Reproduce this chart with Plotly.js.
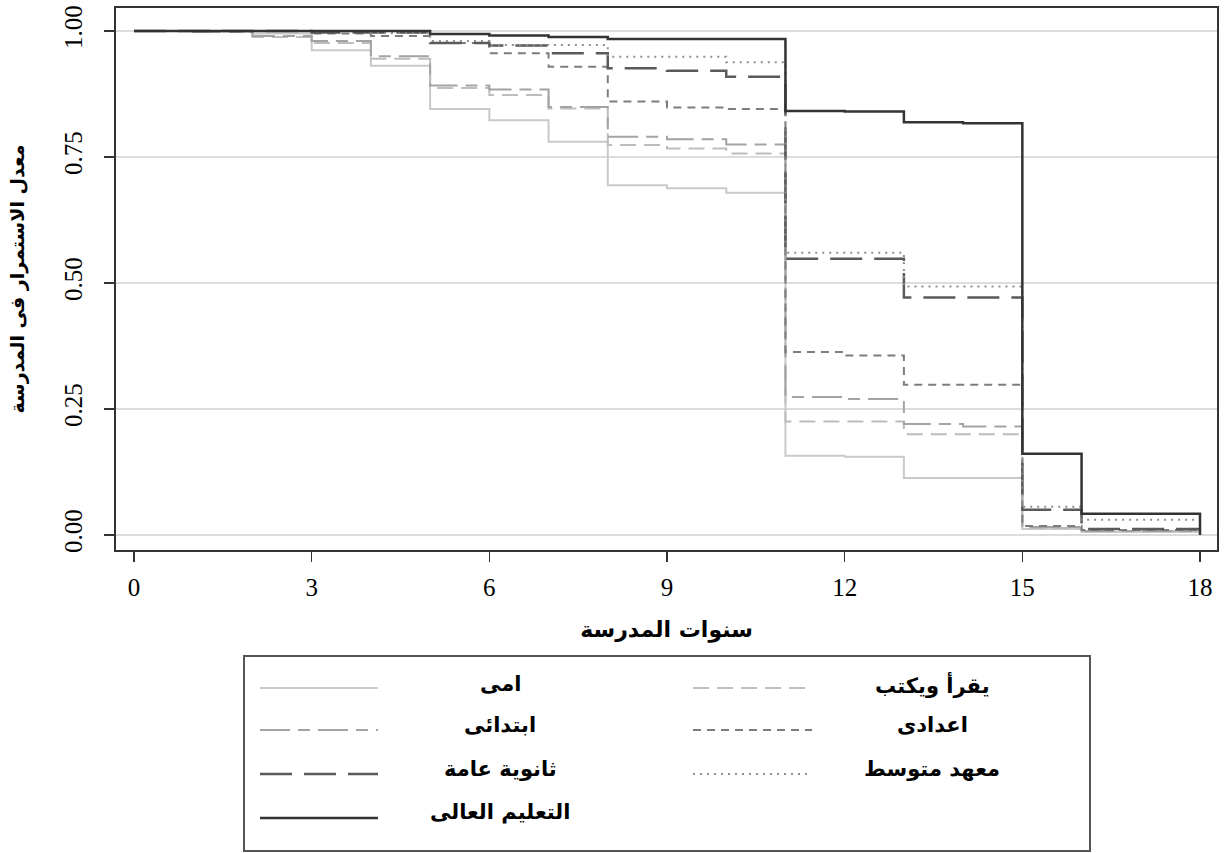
<!DOCTYPE html>
<html>
<head>
<meta charset="utf-8">
<script src="https://cdn.plot.ly/plotly-3.0.1.min.js"></script>
<style>body{margin:0;background:#fff;} #chart{width:1231px;height:853px;}</style>
</head>
<body>
<div id="chart"></div>
<script>
// ---- Data ----
const xTicks = [0, 3, 6, 9, 12, 15, 18];
const yTicks = [0, 0.25, 0.5, 0.75, 1];
const yTickLabels = ["0.00", "0.25", "0.50", "0.75", "1.00"];

const seriesNames = ["امى", "يقرأ ويكتب", "ابتدائى", "اعدادى", "ثانوية عامة", "معهد متوسط", "التعليم العالى"];

const amyX = [0, 2, 3, 4, 5, 6, 7, 8, 9, 10, 11, 12, 13, 15, 16, 18];
const amyY = [1, 0.995, 0.962, 0.931, 0.845, 0.823, 0.780, 0.694, 0.688, 0.679, 0.157, 0.155, 0.113, 0.012, 0.006, 0.006];

const yaqraX = [0, 1, 2, 3, 4, 5, 6, 7, 8, 9, 10, 11, 13, 15, 16, 18];
const yaqraY = [1, 0.998, 0.988, 0.976, 0.945, 0.887, 0.873, 0.846, 0.774, 0.767, 0.757, 0.225, 0.200, 0.014, 0.008, 0.008];

const ibtidaiX = [0, 1, 2, 3, 4, 5, 6, 7, 8, 9, 10, 11, 12, 13, 14, 15, 16, 18];
const ibtidaiY = [1, 0.998, 0.99, 0.98, 0.95, 0.892, 0.884, 0.849, 0.790, 0.785, 0.775, 0.274, 0.270, 0.220, 0.215, 0.016, 0.008, 0.008];

const iadadiX = [0, 3, 4, 5, 6, 7, 8, 9, 10, 11, 12, 13, 15, 16, 18];
const iadadiY = [1, 0.995, 0.99, 0.976, 0.956, 0.929, 0.860, 0.848, 0.845, 0.363, 0.356, 0.298, 0.018, 0.010, 0.010];

const thanawiX = [0, 3, 5, 6, 7, 8, 9, 10, 11, 13, 15, 16, 18];
const thanawiY = [1, 0.997, 0.976, 0.971, 0.956, 0.926, 0.921, 0.909, 0.548, 0.471, 0.050, 0.012, 0.012];

const mahadX = [0, 4, 5, 6, 8, 10, 11, 13, 15, 16, 18];
const mahadY = [1, 0.996, 0.980, 0.972, 0.949, 0.938, 0.560, 0.493, 0.056, 0.030, 0.030];

const aaliX = [0, 5, 6, 7, 8, 11, 12, 13, 14, 15, 16, 18];
const aaliY = [1, 0.994, 0.991, 0.988, 0.984, 0.841, 0.840, 0.819, 0.817, 0.161, 0.042, 0];

// ---- Styles ----
const styles = [
  {color: "#c9c9c9", width: 2, dash: "solid"},
  {color: "#bdbdbd", width: 2, dash: "16px,8px"},
  {color: "#a3a3a3", width: 2, dash: "30px,8px,12px,8px"},
  {color: "#7d7d7d", width: 2, dash: "8px,6px"},
  {color: "#5a5a5a", width: 2.5, dash: "32px,12px"},
  {color: "#8f8f8f", width: 2, dash: "2px,5px"},
  {color: "#333333", width: 2.5, dash: "solid"}
];

const xs = [amyX, yaqraX, ibtidaiX, iadadiX, thanawiX, mahadX, aaliX];
const ys = [amyY, yaqraY, ibtidaiY, iadadiY, thanawiY, mahadY, aaliY];

const traces = seriesNames.map((n, i) => ({
  type: "scatter", mode: "lines", name: n,
  x: xs[i], y: ys[i],
  line: {shape: "hv", color: styles[i].color, width: styles[i].width, dash: styles[i].dash},
  showlegend: false, hoverinfo: "x+y+name"
}));

// ---- Layout geometry ----
const W = 1231, H = 853;
const L = 116, R = 14, T = 8, B = 303;
const pw = W - L - R, ph = H - T - B;
const px = v => (v - L) / pw;
const py = v => (H - B - v) / ph;

const arabicFont = "DejaVu Sans, Noto Sans, sans-serif";
const numFont = "Liberation Serif, Times New Roman, serif";

// Custom legend (two columns, long samples)
const legendCols = [
  {x0: 260, x1: 378, tx: 500},
  {x0: 693, x1: 812, tx: 932}
];
const legendRowY = [688, 730, 774, 818];
const legendTextY = [684, 725, 769, 812];
const legendOrder = [[0, 1], [2, 3], [4, 5], [6, null]];

const shapes = [{
  type: "rect", xref: "paper", yref: "paper",
  x0: px(244), x1: px(1090), y0: py(851), y1: py(656),
  line: {color: "#555", width: 2}, fillcolor: "rgba(0,0,0,0)"
}];
const annotations = [];
legendOrder.forEach((row, r) => {
  row.forEach((si, c) => {
    if (si === null) return;
    const col = legendCols[c];
    shapes.push({
      type: "line", xref: "paper", yref: "paper",
      x0: px(col.x0), x1: px(col.x1), y0: py(legendRowY[r]), y1: py(legendRowY[r]),
      line: {color: styles[si].color, width: styles[si].width, dash: styles[si].dash}
    });
    annotations.push({
      xref: "paper", yref: "paper", x: px(col.tx), y: py(legendTextY[r]),
      xanchor: "center", yanchor: "middle", showarrow: false,
      text: "<b>" + seriesNames[si] + "</b>",
      font: {family: arabicFont, size: 21, color: "#000"}
    });
  });
});

const layout = {
  width: W, height: H,
  margin: {l: L, r: R, t: T, b: B, pad: 0},
  paper_bgcolor: "#fff", plot_bgcolor: "#fff",
  showlegend: false,
  xaxis: {
    range: [-0.304, 18.287], tickvals: xTicks, ticktext: xTicks.map(String),
    ticks: "outside", ticklen: 10, tickwidth: 1.5, tickcolor: "#333",
    showgrid: false, zeroline: false,
    showline: true, linecolor: "#333", linewidth: 2, mirror: true,
    ticklabelstandoff: 4,
    tickfont: {family: numFont, size: 25, color: "#000"},
    title: {text: "<b>سنوات المدرسة</b>", font: {family: arabicFont, size: 22, color: "#000"}, standoff: 22}
  },
  yaxis: {
    range: [-0.0298, 1.0456], tickvals: yTicks, ticktext: yTickLabels, tickangle: -90,
    ticks: "outside", ticklen: 10, tickwidth: 1.5, tickcolor: "#333",
    showgrid: true, gridcolor: "#dcdcdc", gridwidth: 2, zeroline: false,
    showline: true, linecolor: "#333", linewidth: 2, mirror: true,
    ticklabelstandoff: 12,
    tickfont: {family: numFont, size: 25, color: "#000"},
    title: {text: "<b>معدل الاستمرار فى المدرسة</b>", font: {family: arabicFont, size: 19, color: "#000"}, standoff: 30}
  },
  shapes: shapes,
  annotations: annotations
};

Plotly.newPlot("chart", traces, layout, {displayModeBar: false, staticPlot: true});
</script>
</body>
</html>
